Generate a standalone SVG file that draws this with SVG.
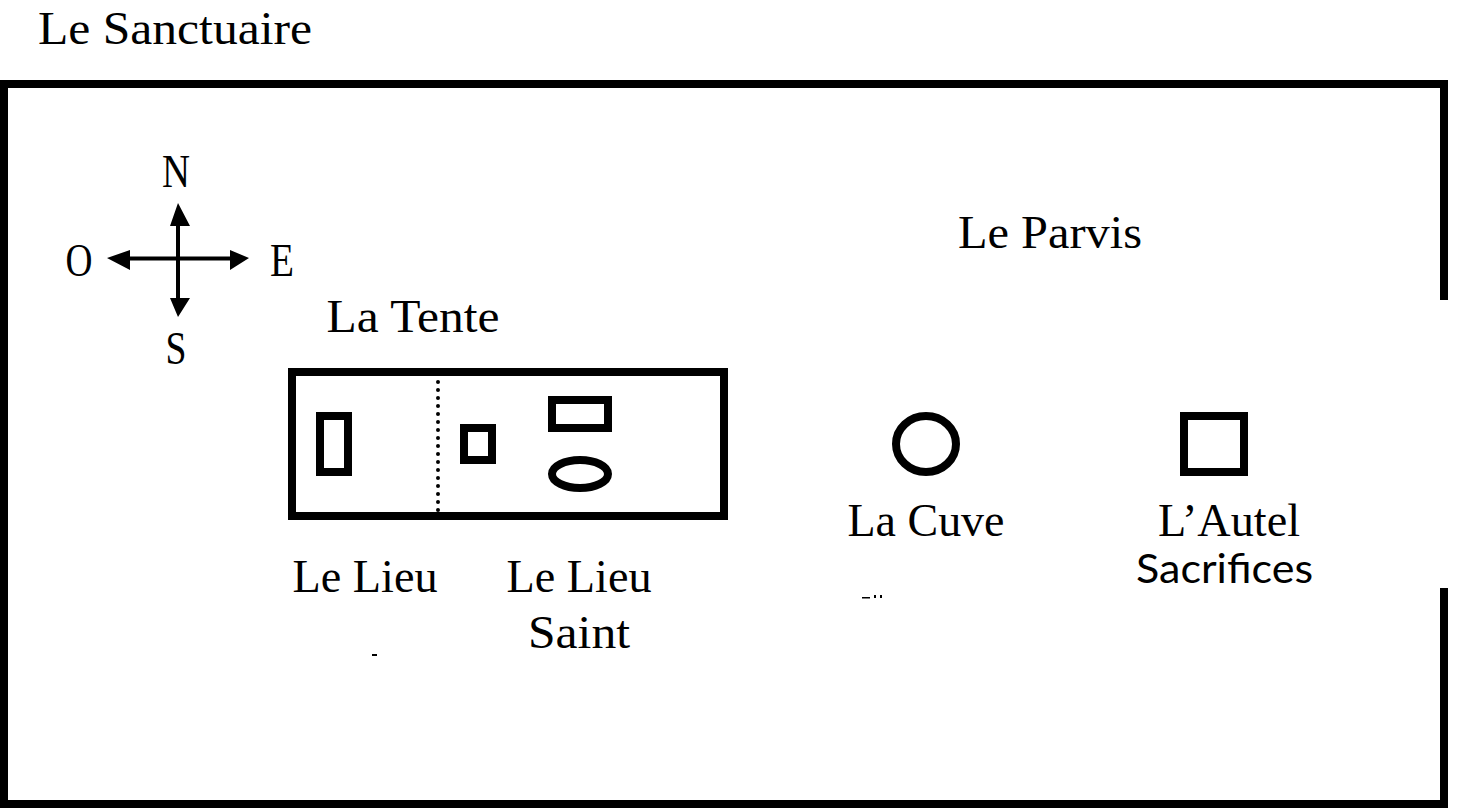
<svg xmlns="http://www.w3.org/2000/svg" width="1472" height="812" viewBox="0 0 1472 812">
<style>
.s{fill:none;stroke:#000;stroke-width:8}
.a{fill:none;stroke:#000;stroke-width:4}
.h{fill:#000}
text{font-family:"Liberation Serif","DejaVu Serif",serif;font-size:46px;fill:#000;text-anchor:middle}
</style>
<rect width="1472" height="812" fill="#fff"/>
<g id="sanctuaire">
<path class="s" d="M1444 300V84H4V804H1444V588"/>
<text x="175" y="44" textLength="274" lengthAdjust="spacingAndGlyphs">Le Sanctuaire</text>
</g>
<g id="parvis"><text x="1050" y="248" textLength="184" lengthAdjust="spacingAndGlyphs">Le Parvis</text></g>
<g id="connectors">
<path class="a" d="M178 222V302M126 258.500H234"/>
<path class="h" d="M178 203L190 226H170ZM178 317L190 298H170ZM107 258L130 250V270ZM249 258L230 250V270Z"/>
</g>
<g id="compass">
<text x="176" y="187" textLength="28" lengthAdjust="spacingAndGlyphs">N</text><text x="176" y="364" textLength="21" lengthAdjust="spacingAndGlyphs">S</text><text x="79" y="276" textLength="27" lengthAdjust="spacingAndGlyphs">O</text><text x="282" y="276" textLength="24" lengthAdjust="spacingAndGlyphs">E</text>
</g>
<g id="tente">
<text x="413" y="332" textLength="173" lengthAdjust="spacingAndGlyphs">La Tente</text>
<rect class="s" x="292" y="372" width="432" height="144"/>
<path d="M438 382V512" fill="none" stroke="#000" stroke-width="4" stroke-linecap="round" stroke-dasharray="0 8"/>
</g>
<g id="lieu">
<rect class="s" x="320" y="416" width="28" height="56"/>
<text x="365" y="592" textLength="145" lengthAdjust="spacingAndGlyphs">Le Lieu</text>
<rect x="372" y="654" width="5" height="2" class="h"/>
</g>
<g id="lieu-saint">
<rect class="s" x="464" y="428" width="28" height="32"/>
<rect class="s" x="552" y="400" width="56" height="28"/>
<ellipse class="s" cx="580" cy="474" rx="28" ry="14"/>
<text x="579" y="592" textLength="145" lengthAdjust="spacingAndGlyphs">Le Lieu</text>
<text x="579" y="648" textLength="102" lengthAdjust="spacingAndGlyphs">Saint</text>
</g>
<g id="cuve">
<ellipse class="s" cx="926" cy="444" rx="30" ry="28"/>
<text x="926" y="536" textLength="157" lengthAdjust="spacingAndGlyphs">La Cuve</text>
<path class="h" d="M862 597h8v1.500h-8ZM874 595h2v3h-2ZM880 595h2v3h-2Z"/>
</g>
<g id="autel">
<rect class="s" x="1184" y="416" width="60" height="56"/>
<text x="1229" y="536" textLength="142" lengthAdjust="spacingAndGlyphs">L’Autel</text>
<text x="1224.500" y="583" textLength="177" lengthAdjust="spacingAndGlyphs" style="font-family:'Lato','Open Sans',sans-serif;font-size:40px">Sacrifices</text>
</g>
</svg>
